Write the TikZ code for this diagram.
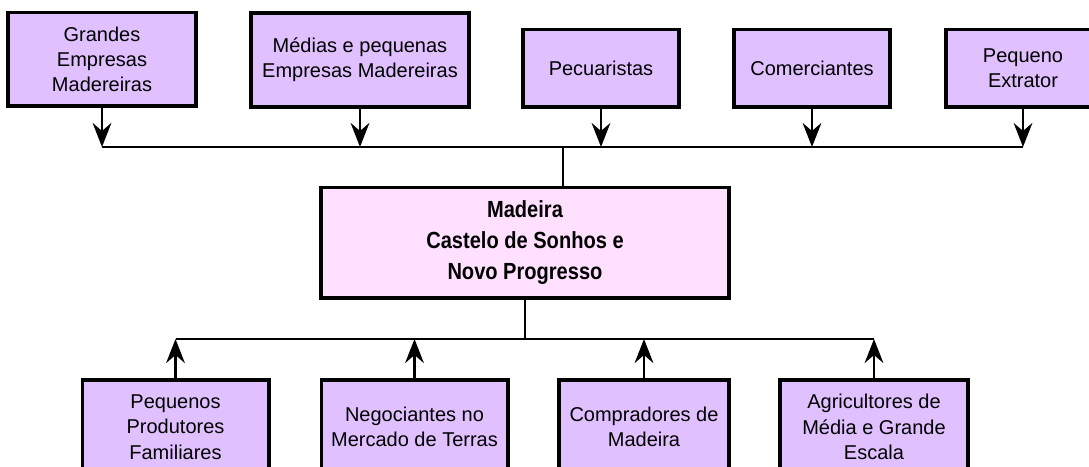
\documentclass[tikz,border=0pt]{standalone}
\usepackage{fontspec}
\setmainfont{Liberation Sans}
\newfontfamily\narrowfont[FakeStretch=0.86]{Liberation Sans}
\usetikzlibrary{arrows.meta}
\definecolor{agente}{RGB}{224,192,255}
\definecolor{centro}{RGB}{255,224,255}
\tikzset{
	agbox/.style={draw, line width=2.5pt, fill=agente, align=center, inner sep=0pt,
		font=\fontsize{15pt}{19pt}\selectfont},
	madbox/.style={draw, line width=2.5pt, fill=centro, align=center, inner sep=0pt,
		minimum width=306pt, minimum height=83pt,
		font=\narrowfont\bfseries\fontsize{17.5pt}{23.2pt}\selectfont},
	liga/.style={line width=2.1pt},
	seta/.style={line width=2.1pt, -{Stealth[length=18pt, width=14pt, inset=6pt]}}
}

\begin{document}
\begin{tikzpicture}[x=0.75pt, y=-0.75pt]
		%%%%% START %%%%%
		\useasboundingbox (0, 0) rectangle (1089, 467);
		
		% fornecedores
		\node[agbox, minimum width=141pt, minimum height=70pt] (grandes) at (102, 59.5) {Grandes\\Empresas\\Madereiras};
		\node[agbox, minimum width=163.5pt, minimum height=70.5pt] (medias) at (360, 60) {M\'edias e pequenas\\Empresas Madereiras};
		\node[agbox, minimum width=117pt, minimum height=58pt] (pecuar) at (601, 68.5) {Pecuaristas};
		\node[agbox, minimum width=117pt, minimum height=58pt] (comerc) at (812, 68.5) {Comerciantes};
		\node[agbox, minimum width=115.5pt, minimum height=58pt] (extrat) at (1023, 68.5) {Pequeno\\Extrator};
		
		\node[madbox] (madeira) at (525, 242.5) {Madeira\\Castelo de Sonhos e\\Novo Progresso};
		
		% compradores
		\node[agbox, minimum width=140pt, minimum height=70.5pt] (famil) at (175.5, 427) {Pequenos\\Produtores\\Familiares};
		\node[agbox, minimum width=140pt, minimum height=70.5pt] (negoc) at (414.5, 427) {Negociantes no\\Mercado de Terras};
		\node[agbox, minimum width=127.5pt, minimum height=70.5pt] (compr) at (644, 427) {Compradores de\\Madeira};
		\node[agbox, minimum width=141pt, minimum height=70.5pt] (agric) at (874, 427) {Agricultores de\\M\'edia e Grande\\Escala};
		
		\coordinate (barracima) at (563, 147);
		\coordinate (barrabaixo) at (525, 339);
		
		% barra de cima
		\foreach \n in {grandes, medias, pecuar, comerc, extrat}
			\draw[seta] (\n.south) -- (\n.south |- barracima);
		\draw[liga] (grandes.south |- barracima) -- (extrat.south |- barracima);
		\draw[liga] (barracima) -- (madeira.north -| barracima);
		
		% barra de baixo
		\foreach \n in {famil, negoc, compr, agric}
			\draw[seta] (\n.north) -- (\n.north |- barrabaixo);
		\draw[liga] (famil.north |- barrabaixo) -- (agric.north |- barrabaixo);
		\draw[liga] (madeira.south) -- (barrabaixo);
		
		%%%%% END %%%%%
	\end{tikzpicture}
\end{document}
